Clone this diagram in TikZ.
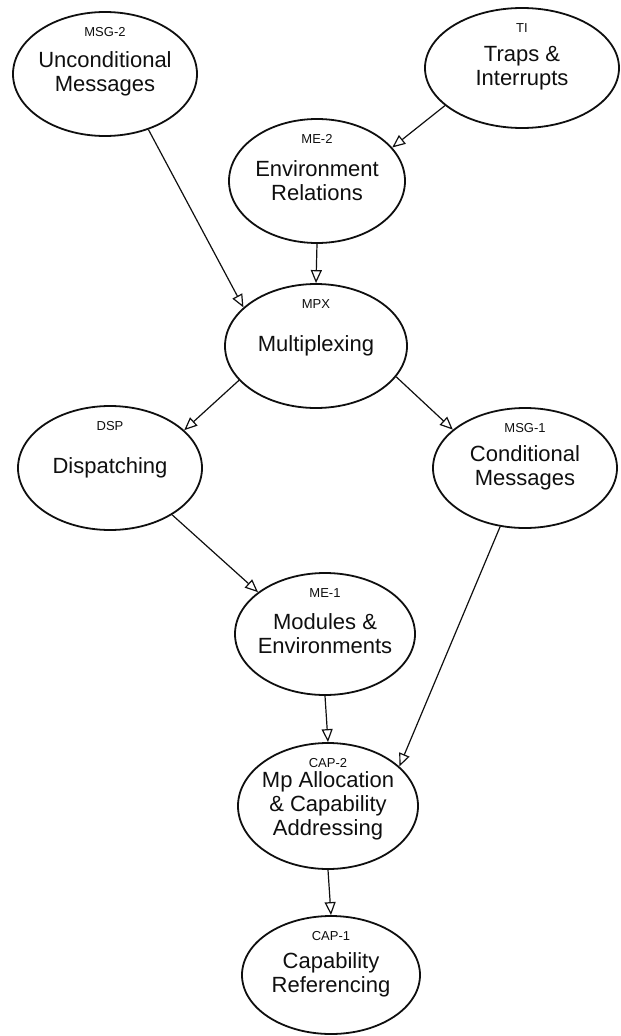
\documentclass[tikz,border=0pt]{standalone}
\usepackage{fontspec}
\setmainfont{Liberation Sans}
\usetikzlibrary{arrows.meta, shapes.geometric}
\definecolor{ink}{RGB}{15, 15, 15}
\tikzset{
  mod/.style 2 args={ellipse, draw=ink, line width=1.8pt, minimum width=184pt, minimum height=124pt, inner sep=0pt,
    label={[tag]north:#1}, label={[txt]center:#2}},
  tag/.style={anchor=north, yshift=-16pt, font=\fontsize{13}{15}\selectfont, text=ink, inner sep=0pt},
  txt/.style={align=center, font=\fontsize{22}{24}\selectfont, text=ink, inner sep=0pt},
  arr/.style={-{Triangle[open, length=13pt, width=11pt, line width=1.2pt]}, line width=1.2pt, ink}
}
\begin{document}
\begin{tikzpicture}[x=1pt, y=-1pt]
  \useasboundingbox (0,0) rectangle (621,1036);
  \node[mod={MSG-2}{Unconditional\\Messages}] (msg2) at (105,74) {};
  \node[mod={TI}{Traps \&\\Interrupts}, minimum width=194pt, minimum height=120pt] (ti) at (522,68) {};
  \node[mod={ME-2}{Environment\\Relations}, minimum width=176pt] (me2) at (317,181) {};
  \node[mod={MPX}{Multiplexing}, minimum width=182pt] (mpx) at (316,346) {};
  \node[mod={DSP}{Dispatching}] (dsp) at (110,468) {};
  \node[mod={MSG-1}{Conditional\\Messages}, minimum height=120pt] (msg1) at (525,468) {};
  \node[mod={ME-1}{Modules \&\\Environments}, minimum width=180pt, minimum height=122pt] (me1) at (325,634) {};
  \node[mod={CAP-2}{Mp Allocation\\\& Capability\\Addressing}, minimum width=180pt, minimum height=126pt] (cap2) at (328,806) {};
  \node[mod={CAP-1}{Capability\\Referencing}, minimum width=178pt, minimum height=118pt] (cap1) at (331,975) {};
  % connectors
  \draw[arr] (msg2.-52) -- (mpx.152);
  \draw[arr] (ti.206) -- (me2.24);
  \draw[arr] (me2.south) -- (mpx.north);
  \draw[arr] (mpx.204) -- (dsp.27);
  \draw[arr] (mpx.-21) -- (msg1.152);
  \draw[arr] (dsp.-37) -- (me1.148);
  \draw[arr] (msg1.-113) -- (cap2.29);
  \draw[arr] (me1.south) -- (cap2.north);
  \draw[arr] (cap2.south) -- (cap1.north);
\end{tikzpicture}
\end{document}
